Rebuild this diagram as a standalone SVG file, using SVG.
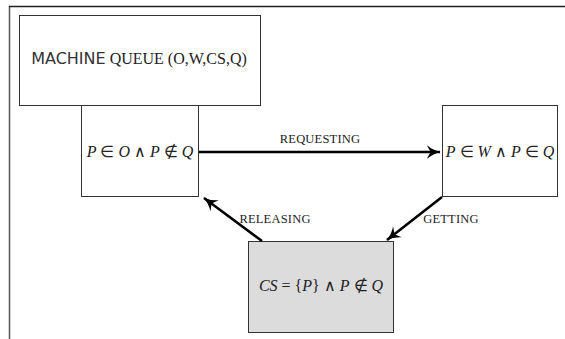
<svg xmlns="http://www.w3.org/2000/svg" width="565" height="339" viewBox="0 0 565 339">
<style>
.box{fill:#fff;stroke:#333;stroke-width:1}
.shade{fill:#dcdcdc;stroke:#333;stroke-width:1}
.math{font-family:"Liberation Serif",serif;font-size:16px;fill:#222}
.i{font-style:italic}
.lbl{font-family:"Liberation Serif",serif;font-size:12.5px;fill:#222;letter-spacing:0.2px}
.edge{stroke:#000;stroke-width:2.6;fill:none}
</style>
<defs>
<marker id="ah" viewBox="0 0 10 10" refX="8.5" refY="5" markerWidth="6" markerHeight="6" orient="auto" markerUnits="strokeWidth">
<path d="M0,0.5 Q4,4 9,5 Q4,6 0,9.5 L2.5,5 Z" fill="#000"/>
</marker>
</defs>
<g id="frame">
<line x1="9.5" y1="6" x2="9.5" y2="339" stroke="#555" stroke-width="1.5"/>
<line x1="9" y1="6.5" x2="565" y2="6.5" stroke="#222" stroke-width="1.5"/>
</g>
<g id="machine">
<rect class="box" x="19.5" y="15.5" width="241" height="90"/>
<text x="139" y="64" text-anchor="middle" class="math" font-size="19"><tspan font-family="DejaVu Sans,sans-serif" font-size="16" fill="#333">MACHINE</tspan> QUEUE (O,W,CS,Q)</text>
</g>
<g id="nodeO">
<rect class="box" x="81.5" y="105.5" width="117" height="91"/>
<text x="140" y="157" text-anchor="middle" class="math"><tspan class="i">P</tspan> ∈ <tspan class="i">O</tspan> ∧ <tspan class="i">P</tspan> ∉ <tspan class="i">Q</tspan></text>
</g>
<g id="nodeW">
<rect class="box" x="442.5" y="105.5" width="115" height="91"/>
<text x="500" y="157" text-anchor="middle" class="math"><tspan class="i">P</tspan> ∈ <tspan class="i">W</tspan> ∧ <tspan class="i">P</tspan> ∈ <tspan class="i">Q</tspan></text>
</g>
<g id="nodeCS">
<rect class="shade" x="248.5" y="241.5" width="145" height="91"/>
<text x="321" y="291" text-anchor="middle" class="math"><tspan class="i">CS</tspan> = {<tspan class="i">P</tspan>} ∧ <tspan class="i">P</tspan> ∉ <tspan class="i">Q</tspan></text>
</g>
<g id="connectors">
<line class="edge" x1="199" y1="152" x2="440" y2="152" marker-end="url(#ah)"/>
<line class="edge" x1="442" y1="197" x2="387" y2="240" marker-end="url(#ah)"/>
<line class="edge" x1="262" y1="241" x2="204" y2="198" marker-end="url(#ah)"/>
<text class="lbl" x="275" y="223" text-anchor="middle">RELEASING</text>
<text class="lbl" x="320" y="143" text-anchor="middle">REQUESTING</text>
<text class="lbl" x="451" y="223" text-anchor="middle">GETTING</text>
</g>
</svg>
